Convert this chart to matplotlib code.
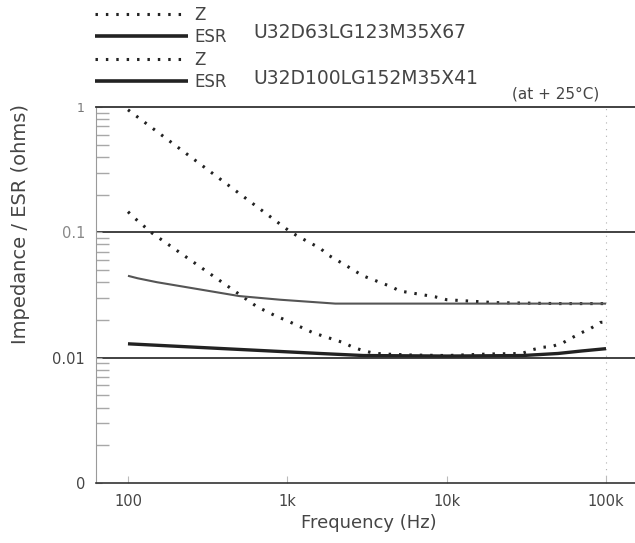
import matplotlib
matplotlib.use("Agg")
import matplotlib.pyplot as plt
from matplotlib.ticker import FixedLocator, LogLocator, NullFormatter

# ---------------- data ----------------
# U32D63LG123M35X67
z1_freq = [100, 110, 141, 645, 860, 1000, 1450, 2240, 2590, 2980, 3450, 4000,
           6000, 10000, 18700, 29600, 34800, 40000, 46000, 54000, 61000,
           70000, 80000, 92000, 100000]
z1_val = [0.146, 0.130, 0.099, 0.0255, 0.0213, 0.0197, 0.0158, 0.0132, 0.0121,
          0.0114, 0.0109, 0.0107, 0.0105, 0.0104, 0.0107, 0.0108, 0.0116,
          0.0121, 0.0123, 0.0132, 0.0144, 0.0158, 0.0171, 0.0191, 0.0193]
esr1_freq = [100, 400, 1600, 3000, 10000, 30000, 50000, 70000, 100000]
esr1_val = [0.0129, 0.0118, 0.0108, 0.0104, 0.0103, 0.0104, 0.0108, 0.0113, 0.0118]

# U32D100LG152M35X41
z2_freq = [100, 1055, 1350, 1600, 1800, 2300, 2980, 4450, 5100, 8450, 10000,
           20000, 50000, 100000]
z2_val = [0.95, 0.100, 0.084, 0.075, 0.066, 0.055, 0.045, 0.037, 0.034, 0.0306,
          0.029, 0.0275, 0.027, 0.027]
esr2_freq = [100, 115, 152, 500, 900, 2000, 10000, 100000]
esr2_val = [0.045, 0.043, 0.040, 0.031, 0.029, 0.027, 0.027, 0.027]

x_ticks = [100, 1000, 10000, 100000]
x_ticklabels = ["100", "1k", "10k", "100k"]
y_ticks = [0.001, 0.01, 0.1, 1]
y_ticklabels = ["0", "0.01", "0.1", "1"]
model1 = "U32D63LG123M35X67"
model2 = "U32D100LG152M35X41"

# ---------------- figure ----------------
W, H = 635, 543
fig = plt.figure(figsize=(W / 100, H / 100), dpi=100)
fig.patch.set_facecolor("white")
TXT = "#454545"
LINE = "#222222"

ax = fig.add_axes([96 / W, (H - 483) / H, (W - 96) / W, (483 - 107) / H])
ax.set_xscale("log")
ax.set_yscale("log")
ax.set_xlim(63, 152000)
ax.set_ylim(0.001, 1)

dot = (0, (0.8, 2.6))
z1_line, = ax.plot(z1_freq, z1_val, color=LINE, lw=2.2, ls=dot,
                   dash_capstyle="butt", label="Z")
esr1_line, = ax.plot(esr1_freq, esr1_val, color=LINE, lw=2.4, ls="-",
                     solid_capstyle="butt", label="ESR")
z2_line, = ax.plot(z2_freq, z2_val, color=LINE, lw=2.2, ls=dot,
                   dash_capstyle="butt", label="Z")
esr2_line, = ax.plot(esr2_freq, esr2_val, color="#555555", lw=1.5, ls="-",
                     solid_capstyle="butt", label="ESR")

# grid / frame
for yv in [0.1, 0.01]:
    ax.axhline(yv, color="#333333", lw=1.3, zorder=1)
ax.axvline(1e5, color="#b0b0b0", lw=0.8, ls=(0, (1, 5)), zorder=0)

for s in ["right"]:
    ax.spines[s].set_visible(False)
ax.spines["top"].set_color("#333333")
ax.spines["top"].set_linewidth(1.3)
ax.spines["bottom"].set_color("#333333")
ax.spines["bottom"].set_linewidth(1.2)
ax.spines["left"].set_color("#9a9a9a")
ax.spines["left"].set_linewidth(0.8)

ax.xaxis.set_major_locator(FixedLocator(x_ticks))
ax.set_xticklabels(x_ticklabels)
ax.xaxis.set_minor_formatter(NullFormatter())
ax.xaxis.set_minor_locator(FixedLocator([]))
ax.yaxis.set_major_locator(FixedLocator(y_ticks))
ax.set_yticklabels(y_ticklabels)
ax.yaxis.set_minor_locator(LogLocator(base=10, subs=range(2, 10)))
ax.yaxis.set_minor_formatter(NullFormatter())

ax.tick_params(axis="x", which="major", direction="in", length=5, width=0.8,
               color="#bbbbbb", labelsize=10.5, labelcolor=TXT, pad=8)
ax.tick_params(axis="y", which="major", direction="in", length=4, width=0.8,
               color="#aaaaaa", labelsize=10.5, labelcolor=TXT, pad=8)
ax.tick_params(axis="y", which="minor", direction="in", length=9, width=1.0,
               color="#a8a8a8")
ax.yaxis.get_ticklabels()[-1].set_fontsize(9)
ax.yaxis.get_ticklabels()[-1].set_color("#777777")
ax.yaxis.get_ticklabels()[-2].set_color("#888888")

# axis labels
fig.text(369 / W, (H - 523) / H, "Frequency (Hz)", ha="center", va="center",
         fontsize=13, color=TXT)
fig.text(21 / W, (H - 224) / H, "Impedance / ESR (ohms)", ha="center",
         va="center", rotation=90, fontsize=14, color=TXT)

# legends
leg_kw = dict(frameon=False, fontsize=12, handlelength=5.6, handletextpad=0.35,
              labelspacing=0.25, borderpad=0, borderaxespad=0,
              labelcolor=TXT, bbox_transform=fig.transFigure, loc="upper left")
leg1 = fig.legend([z1_line, esr1_line], ["Z", "ESR"],
                  bbox_to_anchor=(95 / W, 1 - 6 / H), **leg_kw)
leg2 = fig.legend([z2_line, esr2_line], ["Z", "ESR"],
                  bbox_to_anchor=(95 / W, 1 - 51 / H), **leg_kw)
for lg in (leg1, leg2):
    lg.legend_handles[1].set_color(LINE)
    lg.legend_handles[1].set_linewidth(2.6)

fig.text(253 / W, 1 - 33 / H, model1, ha="left", va="center", fontsize=13.5,
         color=TXT)
fig.text(253 / W, 1 - 78 / H, model2, ha="left", va="center", fontsize=13.5,
         color=TXT)
fig.text(556 / W, 1 - 94 / H, "(at + 25°C)", ha="center", va="center",
         fontsize=11, color=TXT)

fig.savefig("out.png", dpi=100, facecolor="white")
